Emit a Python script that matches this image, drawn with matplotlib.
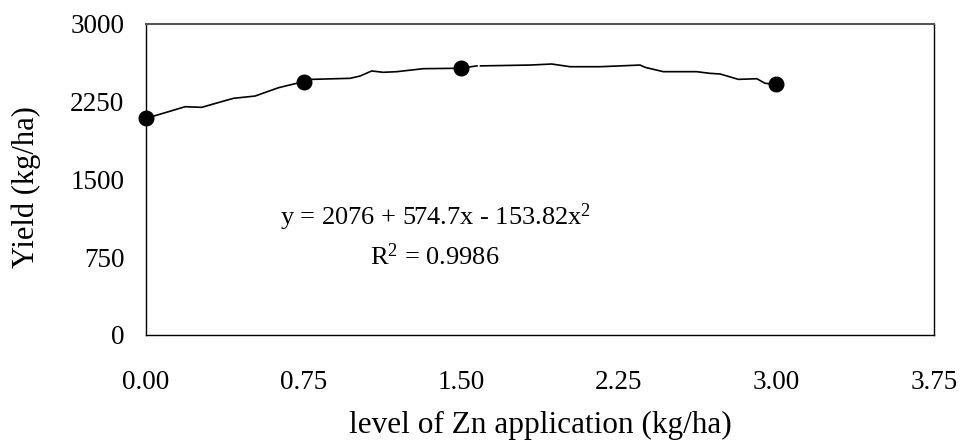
import matplotlib
matplotlib.use("Agg")
import matplotlib.pyplot as plt
import numpy as np

# Observed data points
zn_levels = [0.0, 0.75, 1.5, 3.0]
yield_obs = [2090, 2440, 2580, 2420]

# Trend line (two segments, small gap)
trend_x1 = [0.0, 0.082, 0.186, 0.265, 0.320, 0.416, 0.519, 0.630, 0.670, 0.749,
            0.789, 0.971, 1.019, 1.074, 1.129, 1.193, 1.320, 1.494, 1.575]
trend_y1 = [2090, 2139, 2202, 2196, 2228, 2283, 2305, 2385, 2405, 2443,
            2466, 2476, 2498, 2547, 2534, 2540, 2569, 2573, 2596]
trend_x2 = [1.592, 1.828, 1.931, 2.018, 2.161, 2.351, 2.375, 2.462, 2.621,
            2.684, 2.732, 2.819, 2.907, 2.946, 3.0]
trend_y2 = [2596, 2604, 2614, 2588, 2588, 2604, 2582, 2540, 2540,
            2524, 2518, 2466, 2472, 2428, 2418]

x_ticks = [0.00, 0.75, 1.50, 2.25, 3.00, 3.75]
y_ticks = [0, 750, 1500, 2250, 3000]

equation_text = r"y = 2076 + 574.7x - 153.82x$^{2}$"
r2_text = r"R$^{2}$ = 0.9986"
x_label = "level of Zn application (kg/ha)"
y_label = "Yield (kg/ha)"

plt.rcParams['font.family'] = ['Liberation Serif', 'DejaVu Serif']
plt.rcParams['mathtext.fontset'] = 'custom'
plt.rcParams['mathtext.rm'] = 'Liberation Serif'
plt.rcParams['mathtext.it'] = 'Liberation Serif:italic'

fig = plt.figure(figsize=(9.66, 4.42), dpi=100)
ax = fig.add_axes([146/966, 1-335/442, (934-146)/966, (335-24)/442])

ax.plot(trend_x1, trend_y1, color='black', lw=1.2, zorder=2)
ax.plot(trend_x2, trend_y2, color='black', lw=1.2, zorder=2)
ax.plot(zn_levels, yield_obs, 'o', color='black', markersize=10.5, zorder=3,
        clip_on=False)

ax.set_xlim(0, 3.75)
ax.set_ylim(0, 3000)
ax.set_xticks(x_ticks)
ax.set_xticklabels([f"{v:.2f}" for v in x_ticks])
ax.set_yticks(y_ticks)
ax.set_yticklabels([str(v) for v in y_ticks])
ax.tick_params(axis='both', length=0, labelsize=19.5)
ax.tick_params(axis='y', pad=15.5)
ax.tick_params(axis='x', pad=25)

for s in ['left', 'bottom', 'right']:
    ax.spines[s].set_color('black')
    ax.spines[s].set_linewidth(1.0)
ax.spines['top'].set_color('#555555')
ax.spines['top'].set_linewidth(1.5)

ax.set_xlabel(x_label, fontsize=22.5, labelpad=12)
ax.set_ylabel(y_label, fontsize=22)
ax.yaxis.set_label_coords((41 - 146) / 788, (335 - 187) / 311)

ax.text(0.638, 1138, equation_text, fontsize=19, ha='left', va='center')
ax.text(1.066, 752, r2_text, fontsize=19, ha='left', va='center')

fig.savefig("out.png", dpi=100)
